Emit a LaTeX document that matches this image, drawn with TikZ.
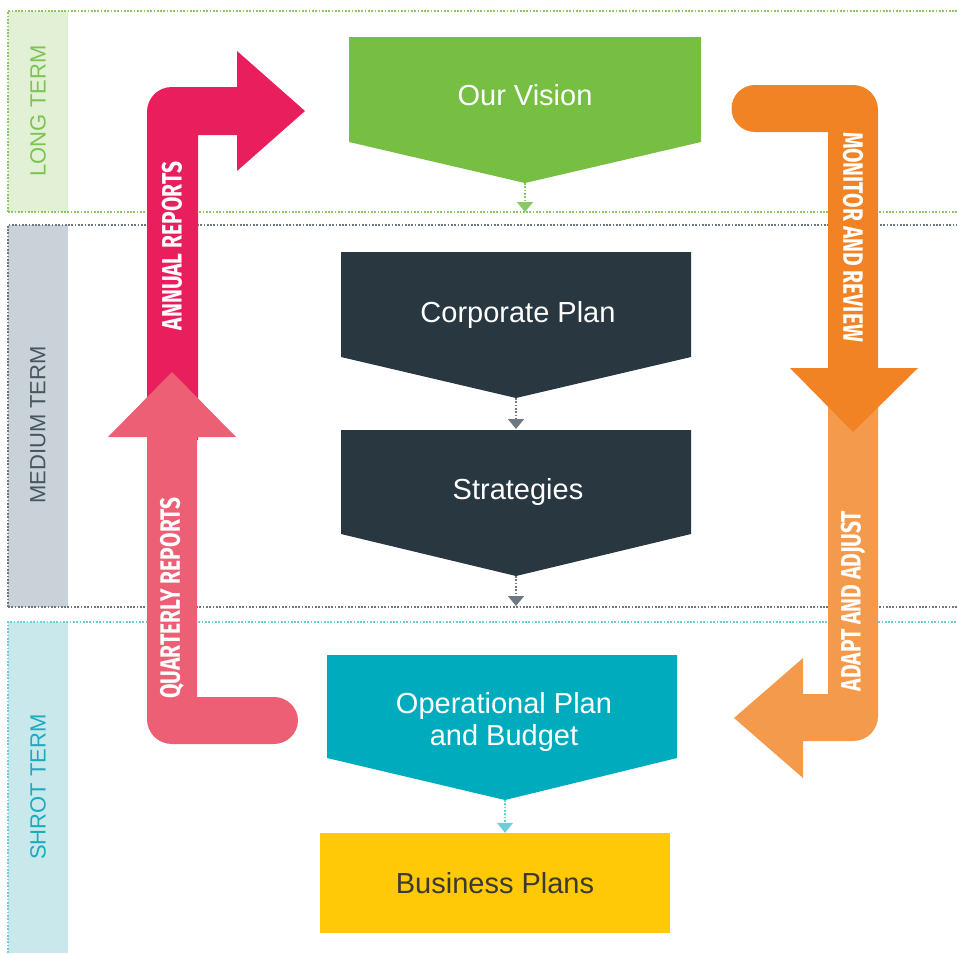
\documentclass[tikz,border=0pt]{standalone}
\usepackage{fontspec}
\setmainfont{Liberation Sans}
\newfontfamily\barfont{Fira Sans}[FakeStretch=0.75]
\usetikzlibrary{arrows.meta}

\definecolor{longfill}{HTML}{E2F0D5}
\definecolor{longline}{HTML}{8CC862}
\definecolor{longtext}{HTML}{7CC353}
\definecolor{midfill}{HTML}{C8D2D8}
\definecolor{midline}{HTML}{6F7880}
\definecolor{midtext}{HTML}{46555E}
\definecolor{shortfill}{HTML}{C9E8EC}
\definecolor{shortline}{HTML}{6ECFDB}
\definecolor{shorttext}{HTML}{1AABBE}
\definecolor{visiongreen}{HTML}{76BF43}
\definecolor{slate}{HTML}{283740}
\definecolor{opsteal}{HTML}{00ABBD}
\definecolor{bizyellow}{HTML}{FFC907}
\definecolor{biztext}{HTML}{3B3A2E}
\definecolor{annualred}{HTML}{E91E5C}
\definecolor{quarterpink}{HTML}{EC5F74}
\definecolor{monitororange}{HTML}{F28324}
\definecolor{adaptorange}{HTML}{F49A4D}

\tikzset{
  bandline/.style={dash pattern=on 1.7pt off 1.6pt, line width=1.8pt},
  flow/.style={dash pattern=on 1.7pt off 1.6pt, line width=1.6pt,
    -{Triangle[width=16pt,length=10pt]}},
  boxtext/.style={text=white, font=\fontsize{29}{32}\selectfont, align=center},
  bandtext/.style={rotate=90, font=\fontsize{22}{26}\selectfont},
  bartext/.style={text=white, font=\barfont\bfseries\fontsize{28}{30}\selectfont},
}

\begin{document}
\begin{tikzpicture}[x=1pt,y=-1pt]
  \useasboundingbox (0,0) rectangle (957,953);

  % term bands
  \fill[longfill] (8,11) rectangle (68,212);
  \draw[bandline,longline] (8,212) -- (8,11) -- (957,11);
  \draw[bandline,longline] (8,212) -- (957,212);
  \fill[midfill] (8,225) rectangle (68,607);
  \draw[bandline,midline] (8,607) -- (8,225) -- (957,225);
  \draw[bandline,midline] (8,607) -- (957,607);
  \fill[shortfill] (8,622) rectangle (68,953);
  \draw[bandline,shortline] (8,953) -- (8,622) -- (957,622);

  \node[bandtext,text=longtext] (longterm) at (38,111) {LONG TERM};
  \node[bandtext,text=midtext] (midterm) at (38,425) {MEDIUM TERM};
  \node[bandtext,text=shorttext] (shortterm) at (38,787) {SHROT TERM};

  % plan shapes
  \fill[visiongreen] (349,37) -- (701,37) -- (701,142) -- (525,183) -- (349,142) -- cycle;
  \fill[slate] (341,252) -- (691,252) -- (691,357) -- (516,398) -- (341,357) -- cycle;
  \fill[slate] (341,430) -- (691,430) -- (691,534) -- (516,576) -- (341,534) -- cycle;
  \fill[opsteal] (327,655) -- (677,655) -- (677,758) -- (505,800) -- (327,758) -- cycle;

  \node[boxtext] (vision) at (525,95) {Our Vision};
  \node[boxtext] (corporate) at (518,315) {Corporate Plan};
  \node[boxtext] (strategies) at (518,492) {Strategies};
  \node[boxtext] (operational) at (504,722) {Operational Plan\\and Budget};
  \node[fill=bizyellow, text=biztext, font=\fontsize{29}{32}\selectfont,
    minimum width=350pt, minimum height=100pt] (business) at (495,883) {Business Plans};

  \coordinate (vision-tip) at (525,183);
  \coordinate (vision-end) at (525,212);
  \coordinate (corp-tip) at (516,398);
  \coordinate (strat-top) at (516,429);
  \coordinate (strat-tip) at (516,576);
  \coordinate (strat-end) at (516,606);
  \coordinate (ops-tip) at (505,800);

  \draw[flow,longline] (vision-tip) -- (vision-end);
  \draw[flow,midline] (corp-tip) -- (strat-top);
  \draw[flow,midline] (strat-tip) -- (strat-end);
  \draw[flow,shortline] (ops-tip) -- (business.north -| ops-tip);

  % feedback arrows, left side
  \fill[annualred] (147,440) -- (147,112) .. controls (147,98) and (158,87) .. (172,87)
    -- (237,87) -- (237,51) -- (305,111) -- (237,171) -- (237,135)
    -- (198,135) -- (198,440) -- cycle;
  \fill[quarterpink] (172,372) -- (236,437) -- (197,437) -- (197,697) -- (274,697)
    .. controls (287,697) and (298,707.5) .. (298,720.5)
    .. controls (298,733.5) and (287,744) .. (274,744)
    -- (172,744) .. controls (158,744) and (147,733) .. (147,719)
    -- (147,437) -- (108,437) -- cycle;
  \node[bartext,rotate=90] (annual) at (172,246) {ANNUAL REPORTS};
  \node[bartext,rotate=90] (quarterly) at (172,598) {QUARTERLY REPORTS};

  % feedback arrows, right side
  \fill[adaptorange] (828,400) -- (878,400) -- (878,716)
    .. controls (878,730) and (867,741) .. (853,741)
    -- (803,741) -- (803,778) -- (734,718) -- (803,658) -- (803,694)
    -- (828,694) -- cycle;
  \fill[monitororange] (755,85) -- (853,85) .. controls (867,85) and (878,96) .. (878,110)
    -- (878,368) -- (918,368) -- (853,432) -- (790,368) -- (828,368)
    -- (828,132) -- (755,132)
    .. controls (742,132) and (731.5,121.5) .. (731.5,108.5)
    .. controls (731.5,95.5) and (742,85) .. (755,85) -- cycle;
  \node[bartext,rotate=-90] (monitor) at (853,237) {MONITOR AND REVIEW};
  \node[bartext,rotate=90] (adapt) at (853,601) {ADAPT AND ADJUST};
\end{tikzpicture}
\end{document}
